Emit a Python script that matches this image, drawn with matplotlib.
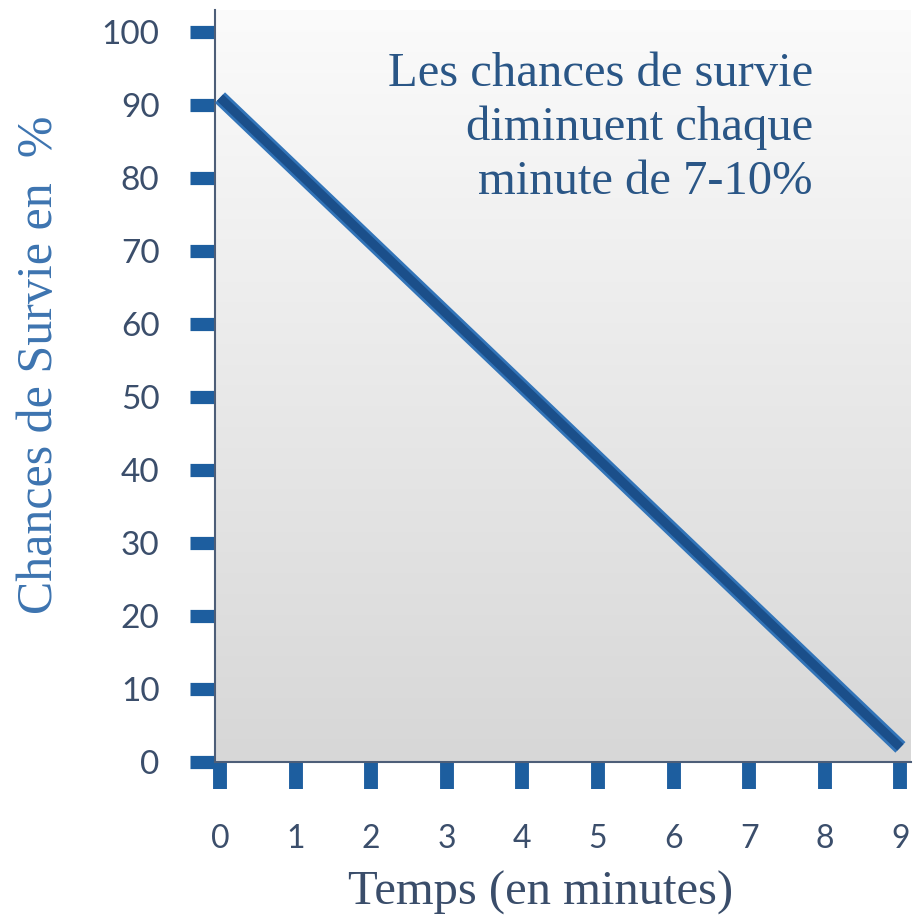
"Survival chances vs time before defibrillation"
import numpy as np
import matplotlib
matplotlib.use('Agg')
import matplotlib.pyplot as plt
from matplotlib.colors import LinearSegmentedColormap

# data
minutes = [0, 9]
survie = [91, 2]
x_ticks = list(range(10))
y_ticks = list(range(0, 101, 10))

xlabel = 'Temps (en minutes)'
ylabel = 'Chances de Survie en  %'
note = 'Les chances de survie\ndiminuent chaque\nminute de 7-10%'

label_color = '#3b4e6b'
tick_color = '#1d5e9f'
spine_color = '#4d5e78'
serif = 'Liberation Serif'

plt.rcParams['font.family'] = ['Lato', 'DejaVu Sans']

W, H = 914, 921
fig = plt.figure(figsize=(W / 100, H / 100), dpi=100)
fig.patch.set_facecolor('white')
ax = fig.add_axes([215 / W, 159 / H, 696 / W, 752 / H])

# grey gradient behind the plot
grad = np.linspace(0, 1, 256).reshape(-1, 1)
cmap = LinearSegmentedColormap.from_list('bg', ['#fbfbfb', '#d7d7d7'])
ax.imshow(grad, extent=[0, 1, 0, 1], transform=ax.transAxes, aspect='auto',
          cmap=cmap, origin='upper', zorder=0)

# thick line: light blue rim, darker core
ax.plot(minutes, survie, color='#3274b8', lw=10.5, solid_capstyle='butt',
        zorder=3)
ax.plot(minutes, survie, color='#1b4f8a', lw=6.5, solid_capstyle='butt',
        zorder=4)

ax.set_xlim(-0.066, 9.14)
ax.set_ylim(0, 103)
ax.set_xticks(x_ticks)
ax.set_yticks(y_ticks)

for side in ('top', 'right'):
    ax.spines[side].set_visible(False)
for side in ('left', 'bottom'):
    ax.spines[side].set_color(spine_color)
    ax.spines[side].set_linewidth(1.5)

ax.tick_params(axis='y', length=18, width=9.5, color=tick_color, pad=22,
               labelsize=24, labelcolor=label_color)
ax.tick_params(axis='x', length=19.5, width=10, color=tick_color, pad=25,
               labelsize=23, labelcolor=label_color)

fig.text(40 / W, 1 - 365 / H, ylabel, rotation=90, ha='center', va='center',
         fontsize=36, family=serif, color='#3d74b0')
fig.text(541 / W, (H - 905) / H, xlabel, ha='center', va='baseline',
         fontsize=35, family=serif, color='#3a4d6a')
fig.text(813 / W, 1 - 52 / H, note, ha='right', va='top',
         multialignment='right', linespacing=1.28,
         fontsize=35, family=serif, color='#2a5686')

fig.savefig('out.png', dpi=100)
